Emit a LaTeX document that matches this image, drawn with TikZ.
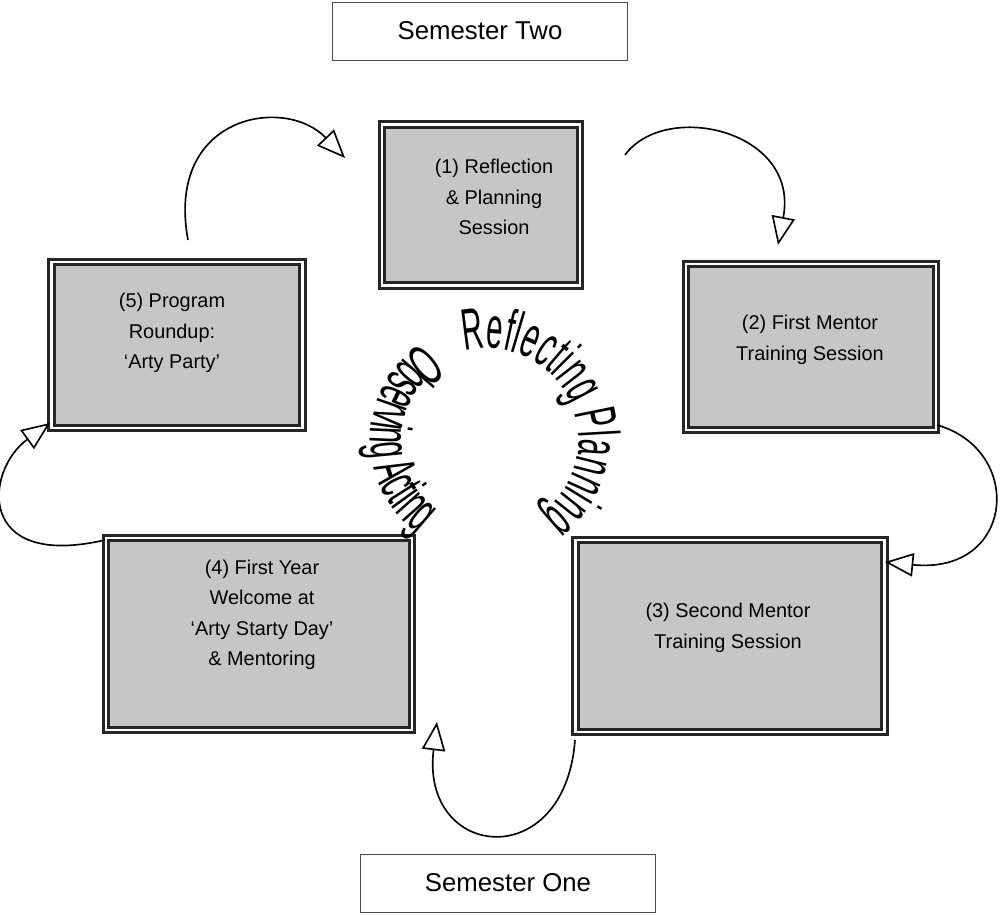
\documentclass[tikz,border=0pt]{standalone}
\usepackage{fontspec}
\setmainfont{Liberation Sans}
\newfontfamily\narrowf[FakeStretch=0.5]{Liberation Sans}
\usetikzlibrary{arrows.meta,decorations.text}
\begin{document}
\begin{tikzpicture}[x=0.03cm,y=-0.03cm,
  box/.style={draw=black!85,line width=2.2pt,fill=gray!45,
     double=white,double distance=2.5pt,align=center,font=\fontsize{17}{26}\selectfont},
  sem/.style={draw=black!70,line width=0.8pt,fill=white,font=\fontsize{22}{26}\selectfont},
  cyc/.style={line width=1.4pt,-{Triangle[open,length=0.85cm,width=0.7cm]}}]
\useasboundingbox (0,0) rectangle (1000,914);
\fill[white] (0,0) rectangle (1000,914);
% semester labels
\node[sem,minimum width=295*0.03cm,minimum height=58*0.03cm] (s2) at (480,31) {Semester Two};
\node[sem,minimum width=295*0.03cm,minimum height=58*0.03cm] (s1) at (508,883) {Semester One};
% boxes
\node[box,minimum width=198*0.03cm,minimum height=161*0.03cm] (b1) at (481,205) {};
\node[align=center,font=\fontsize{17}{26}\selectfont] (t1) at (494,197) {(1) Reflection\\\& Planning\\Session};
\node[box,minimum width=250*0.03cm,minimum height=166*0.03cm] (b2) at (811,347) {};
\node[align=center,font=\fontsize{17}{26}\selectfont] (t2) at (810,340) {(2) First Mentor\\Training Session};
\node[box,minimum width=309*0.03cm,minimum height=192*0.03cm] (b3) at (730,636) {};
\node[align=center,font=\fontsize{17}{26}\selectfont] (t3) at (728,628) {(3) Second Mentor\\Training Session};
\node[box,minimum width=306*0.03cm,minimum height=192*0.03cm] (b4) at (259,634) {};
\node[align=center,font=\fontsize{17}{26}\selectfont] (t4) at (262,615) {(4) First Year\\Welcome at\\‘Arty Starty Day’\\\& Mentoring};
\node[box,minimum width=251*0.03cm,minimum height=166*0.03cm] (b5) at (177,345) {};
\node[align=center,font=\fontsize{17}{26}\selectfont] (t5) at (172,333) {(5) Program\\Roundup:\\‘Arty Party’};
% arrow ends
\coordinate (a1s) at (188,240); \coordinate (a1e) at (345,158);
\coordinate (a2s) at (625,155); \coordinate (a2e) at (778,245);
\coordinate (a3s) at (937,425); \coordinate (a3e) at (885,562);
\coordinate (a4s) at (575,740); \coordinate (a4e) at (437,722);
\coordinate (a5s) at (105,540); \coordinate (a5e) at (50,423);
\draw[cyc] (a1s) .. controls (165,115) and (285,95) .. (a1e);
\draw[cyc] (a2s) .. controls (665,100) and (800,130) .. (a2e);
\draw[cyc] (a3s) .. controls (1025,450) and (1015,575) .. (a3e);
\draw[cyc] (a4s) .. controls (565,875) and (420,860) .. (a4e);
\draw[cyc] (a5s) .. controls (-25,570) and (-15,470) .. (a5e);
% circular text (normal orientation scope, centre at (487,440) px)
\begin{scope}[x=1cm,y=1cm,shift={(14.61,-13.2)}]
\coordinate (c) at (0,0);
\path[decorate,decoration={text along path,text align=left,
  text={|\narrowf\fontsize{50}{50}\selectfont|Reflecting Planning}}]
  (104:2.75) arc[start angle=104,end angle=-100,radius=2.75];
\path[decorate,decoration={text along path,text align=left,
  text={|\narrowf\fontsize{50}{50}\selectfont|Observing Acting}}]
  (124:3.5) arc[start angle=124,end angle=320,radius=3.5];
\end{scope}
\end{tikzpicture}
\end{document}
